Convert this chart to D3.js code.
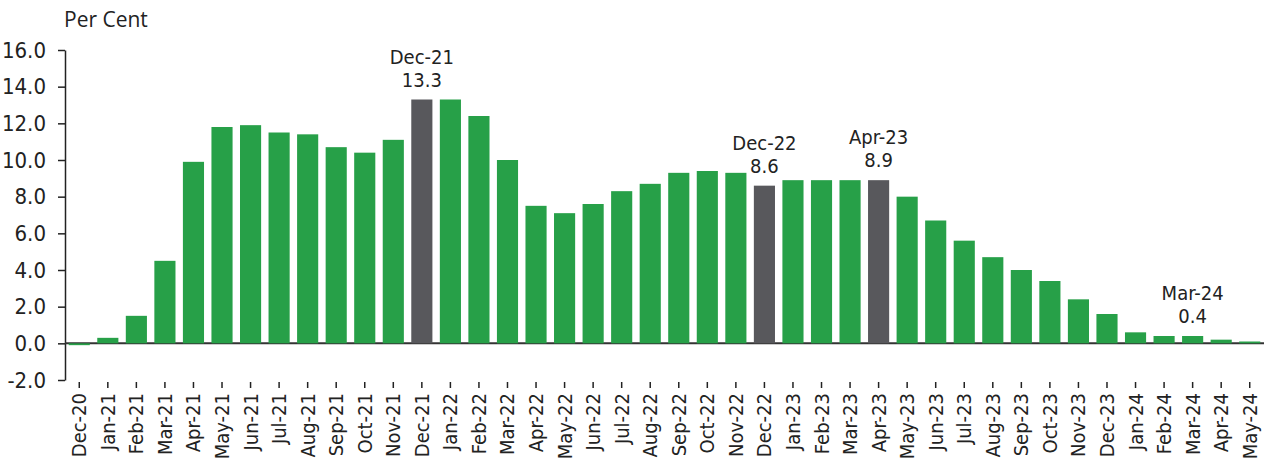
<script src="https://cdnjs.cloudflare.com/ajax/libs/d3/7.8.5/d3.min.js"></script>
<body style="margin:0;background:#fff">
<script>
  const months = ["Dec-20","Jan-21","Feb-21","Mar-21","Apr-21","May-21","Jun-21","Jul-21","Aug-21","Sep-21","Oct-21","Nov-21",
    "Dec-21","Jan-22","Feb-22","Mar-22","Apr-22","May-22","Jun-22","Jul-22","Aug-22","Sep-22","Oct-22","Nov-22",
    "Dec-22","Jan-23","Feb-23","Mar-23","Apr-23","May-23","Jun-23","Jul-23","Aug-23","Sep-23","Oct-23","Nov-23",
    "Dec-23","Jan-24","Feb-24","Mar-24","Apr-24","May-24"];
  const values = [-0.1,0.3,1.5,4.5,9.9,11.8,11.9,11.5,11.4,10.7,10.4,11.1,
    13.3,13.3,12.4,10.0,7.5,7.1,7.6,8.3,8.7,9.3,9.4,9.3,
    8.6,8.9,8.9,8.9,8.9,8.0,6.7,5.6,4.7,4.0,3.4,2.4,
    1.6,0.6,0.4,0.4,0.2,0.1];
  const highlighted = ["Dec-21","Dec-22","Apr-23"];
  const annotated = ["Dec-21","Dec-22","Apr-23","Mar-24"];
  const yTicks = [-2,0,2,4,6,8,10,12,14,16];

  const width = 1264, height = 458;
  const font = "'DejaVu Sans Condensed',sans-serif";

  var svg = d3.select("body").append("svg")
    .attr("width", width)
    .attr("height", height);

  var x = d3.scaleBand()
    .domain(months)
    .range([65, 1264])
    .paddingInner(0.26)
    .paddingOuter(0.13);

  var y = d3.scaleLinear()
    .domain([-2, 16])
    .range([380, 50]);

  // title
  svg.append("text")
    .attr("x", 64).attr("y", 27)
    .attr("font-family", "'Open Sans','Noto Sans',sans-serif")
    .attr("font-size", "21px")
    .attr("fill", "#222")
    .text("Per Cent");

  // y axis
  var yAxis = svg.append("g")
    .attr("transform", "translate(65,0)")
    .call(d3.axisLeft(y).tickValues(yTicks).tickFormat(d => d.toFixed(1)).tickSize(7).tickSizeOuter(0));
  yAxis.select(".domain").attr("stroke", "#222").attr("stroke-width", 1.5);
  yAxis.selectAll(".tick line").attr("stroke", "#222").attr("stroke-width", 1.5);
  yAxis.selectAll("text")
    .attr("x", -19)
    .attr("font-family", font)
    .attr("font-size", "22px")
    .attr("fill", "#222");

  // zero line
  svg.append("line")
    .attr("x1", 65).attr("x2", 1264)
    .attr("y1", y(0)).attr("y2", y(0))
    .attr("stroke", "#333").attr("stroke-width", 2);

  // bars
  svg.selectAll("rect.bar")
    .data(months)
    .enter()
    .append("rect")
    .attr("class", "bar")
    .attr("x", d => x(d))
    .attr("width", x.bandwidth())
    .attr("y", (d, i) => y(Math.max(0, values[i])))
    .attr("height", (d, i) => Math.abs(y(values[i]) - y(0)))
    .attr("fill", d => highlighted.includes(d) ? "#58585c" : "#27a048");

  // x ticks + labels
  var xg = svg.append("g")
    .attr("transform", "translate(0,380)")
    .call(d3.axisBottom(x).tickSize(0));
  xg.select(".domain").remove();
  xg.selectAll(".tick").append("line")
    .attr("y1", 2).attr("y2", 8)
    .attr("stroke", "#222").attr("stroke-width", 1.5);
  xg.selectAll("text")
    .attr("transform", "rotate(-90)")
    .attr("x", -13)
    .attr("y", 0)
    .attr("dy", "0.35em")
    .style("text-anchor", "end")
    .attr("font-family", font)
    .attr("font-size", "20px")
    .attr("fill", "#222");

  // annotations
  var ann = svg.selectAll("g.ann")
    .data(annotated)
    .enter()
    .append("g")
    .attr("class", "ann")
    .attr("transform", d => "translate(" + (x(d) + x.bandwidth() / 2) + "," + (y(values[months.indexOf(d)]) - 13) + ")");
  ann.append("text")
    .attr("y", 0)
    .style("text-anchor", "middle")
    .attr("font-family", font)
    .attr("font-size", "20px")
    .attr("fill", "#222")
    .text(d => values[months.indexOf(d)].toFixed(1));
  ann.append("text")
    .attr("y", -23)
    .style("text-anchor", "middle")
    .attr("font-family", font)
    .attr("font-size", "20px")
    .attr("fill", "#222")
    .text(d => d);
</script>
</body>
